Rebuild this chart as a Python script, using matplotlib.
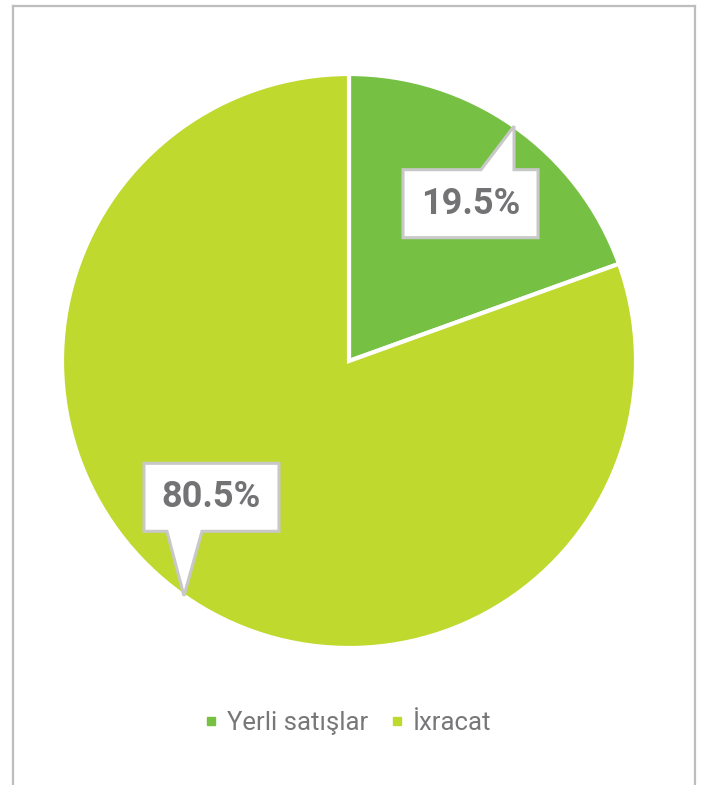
import matplotlib
matplotlib.use("Agg")
import numpy as np
import matplotlib.pyplot as plt
from matplotlib.lines import Line2D
from matplotlib.patches import Polygon

plt.rcParams['font.family'] = ['Roboto', 'DejaVu Sans']

categories = ["Yerli satışlar", "İxracat"]
shares = [19.5, 80.5]
labels = ["19.5%", "80.5%"]
colors = ["#76C043", "#BFD92F"]

W, H = 701, 785
cx, cy, R = 349, 361, 287  # pie centre and radius in pixels

fig = plt.figure(figsize=(W / 100, H / 100), dpi=100)
fig.patch.set_facecolor("white")

# outer frame (left, top, right only)
frame_kw = dict(color="#BDBDBD", linewidth=1.6, transform=fig.transFigure)
fig.add_artist(Line2D([13 / W, 13 / W], [0, 1 - 6 / H], **frame_kw))
fig.add_artist(Line2D([13 / W, 695 / W], [1 - 6 / H, 1 - 6 / H], **frame_kw))
fig.add_artist(Line2D([695 / W, 695 / W], [0, 1 - 6 / H], **frame_kw))

ax = fig.add_axes([(cx - R) / W, (H - cy - R) / H, 2 * R / W, 2 * R / H])
wedges, _ = ax.pie(shares, colors=colors, startangle=90, counterclock=False,
                   radius=1, wedgeprops=dict(edgecolor="white", linewidth=3))
ax.set_xlim(-1, 1)
ax.set_ylim(-1, 1)
ax.set_aspect("equal")
ax.axis("off")

# callout boxes: offsets (px) of box centre from the tip, pointer base span
box_w, box_h = 135 / R, 68 / R
callouts = [
    dict(off=(-43.5, 77.5), base=(-33, 0), side="top"),
    dict(off=(27.5, -98.5), base=(-17, 18), side="bottom"),
]

cum = np.cumsum([0] + shares)
for i, wdg in enumerate(wedges):
    mid = 90 - (cum[i] + shares[i] / 2) * 3.6
    tx, ty = np.cos(np.radians(mid)), np.sin(np.radians(mid))
    c = callouts[i]
    bx, by = tx + c["off"][0] / R, ty - c["off"][1] / R
    x0, x1 = bx - box_w / 2, bx + box_w / 2
    y0, y1 = by - box_h / 2, by + box_h / 2
    p0, p1 = tx + c["base"][0] / R, tx + c["base"][1] / R
    if c["side"] == "top":
        pts = [(x0, y0), (x1, y0), (x1, y1), (p1, y1), (tx, ty), (p0, y1), (x0, y1)]
    else:
        pts = [(x0, y1), (x0, y0), (p0, y0), (tx, ty), (p1, y0), (x1, y0), (x1, y1)]
    ax.add_patch(Polygon(pts, closed=True, facecolor="white", edgecolor="#C8C8C8",
                         linewidth=2.2, joinstyle="miter", zorder=5))
    ax.text(bx, by, labels[i], ha="center", va="center", fontsize=26,
            fontweight="bold", color="#737376", zorder=6)

handles = [Line2D([], [], marker="s", linestyle="none", markersize=5.5,
                  markerfacecolor=col, markeredgecolor=col) for col in colors]
fig.legend(handles, categories, loc="center", bbox_to_anchor=(348 / W, 1 - 723 / H),
           ncol=2, frameon=False, fontsize=18.5, labelcolor="#77777A",
           handlelength=0.5, handletextpad=0.35, columnspacing=0.9)

fig.savefig("out.png", dpi=100, facecolor="white")
